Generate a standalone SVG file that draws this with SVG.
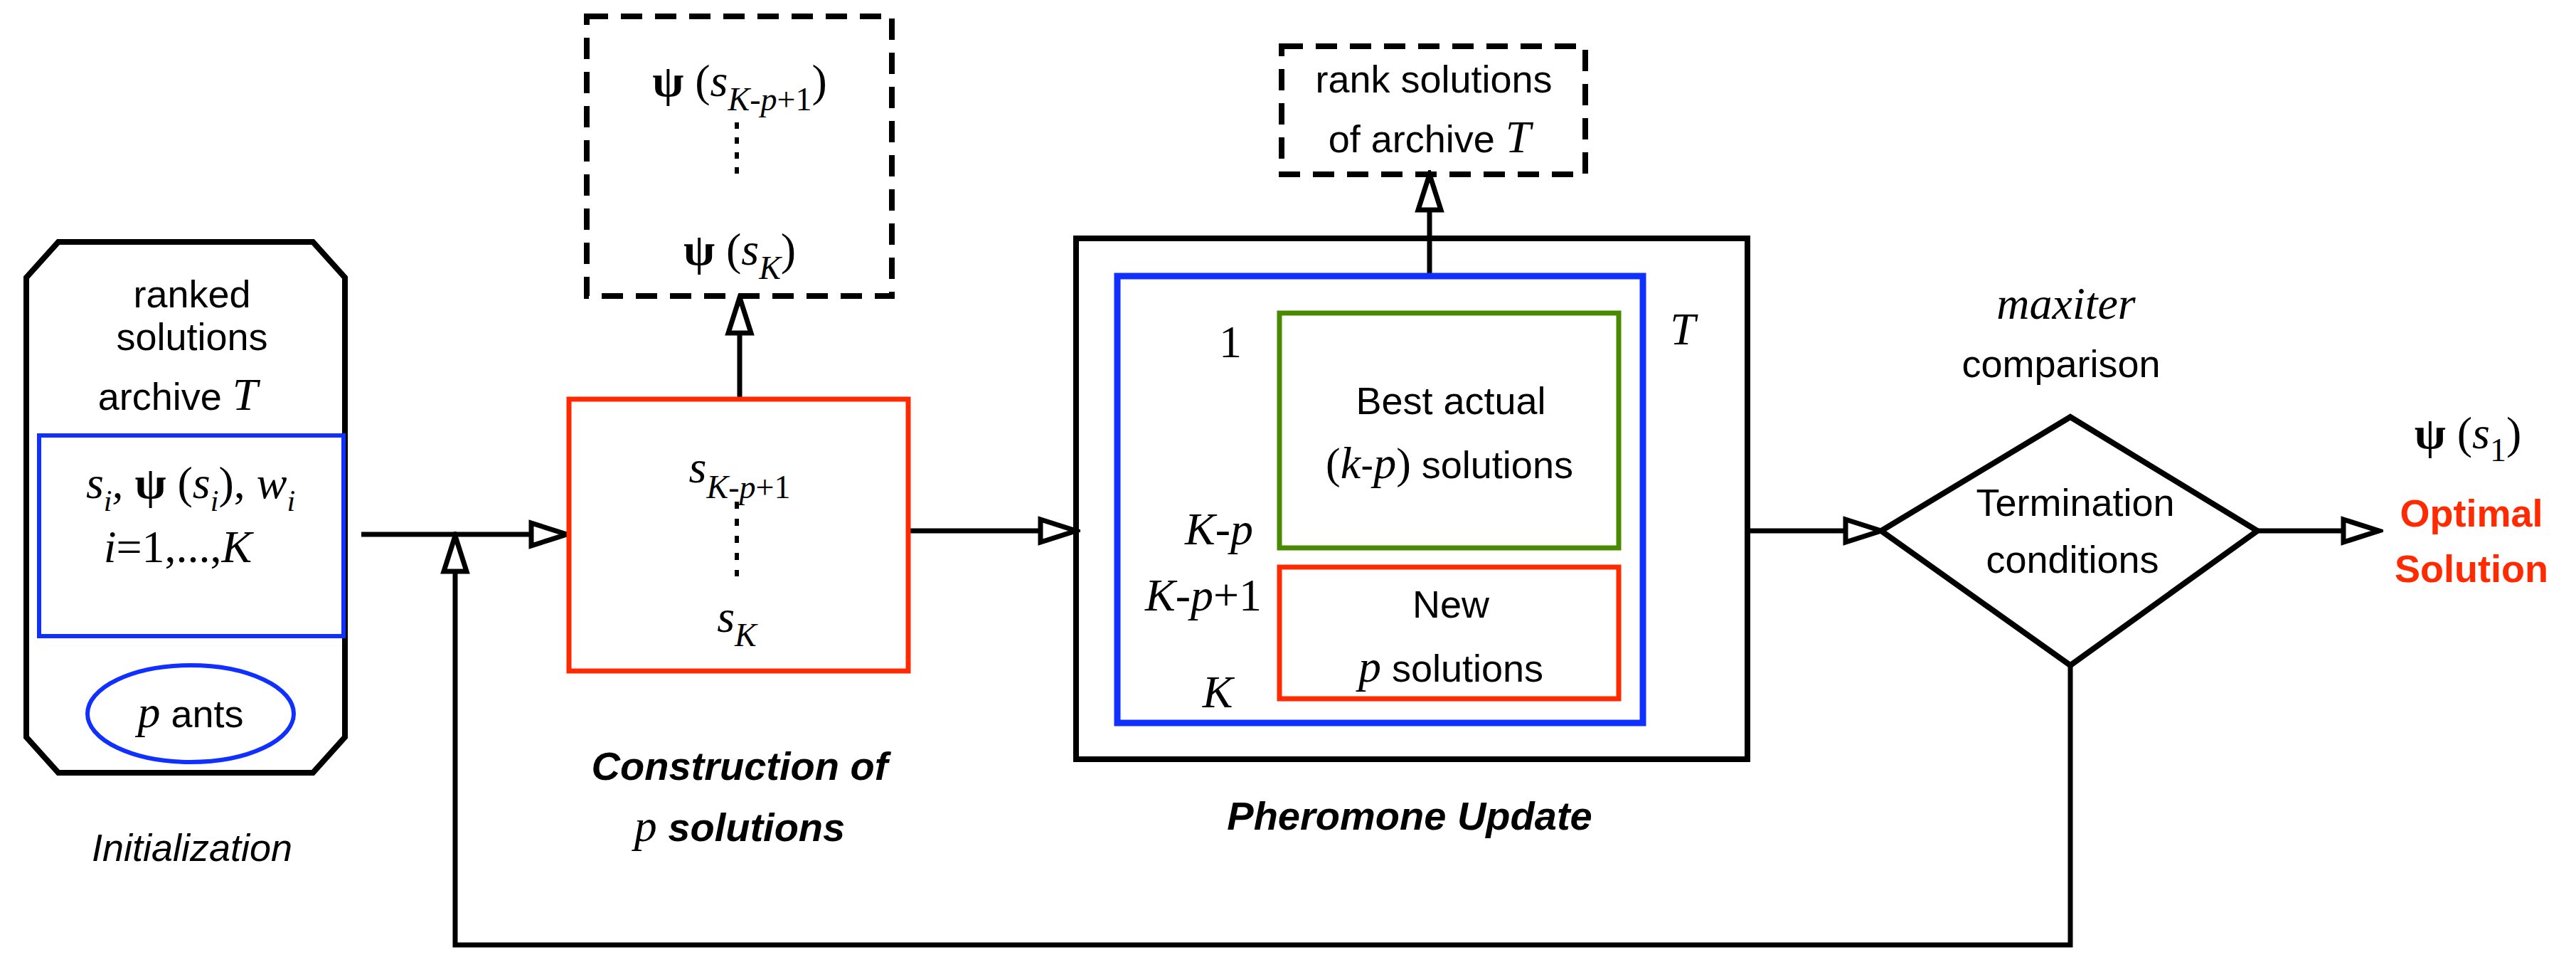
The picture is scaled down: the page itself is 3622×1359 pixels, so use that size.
<svg xmlns="http://www.w3.org/2000/svg" width="3622" height="1359" viewBox="0 0 3622 1359">
<style>
.s{font-family:"Liberation Sans",Arial,sans-serif;font-size:54px;fill:#000;text-anchor:middle}
.m{font-family:"Liberation Serif","Times New Roman",serif;font-style:italic;font-size:64px;fill:#000;text-anchor:middle}
.mu{font-family:"Liberation Serif","Times New Roman",serif;font-size:64px;fill:#000;text-anchor:middle}
.b{font-family:"Liberation Serif",serif;font-weight:bold;font-style:normal}
.lab{font-family:"Liberation Sans",Arial,sans-serif;font-size:56px;font-weight:bold;font-style:italic;fill:#000;text-anchor:middle}
.k{fill:none;stroke:#000;stroke-width:8}
.d{fill:none;stroke:#000;stroke-width:8;stroke-dasharray:30,18}
.c{fill:none;stroke:#000;stroke-width:7}
</style>
<defs>
<marker id="a" markerUnits="userSpaceOnUse" markerWidth="60" markerHeight="60" viewBox="0 0 60 60" refX="54" refY="30" orient="auto">
<path d="M4,14 L54,30 L4,46 Z" fill="#fff" stroke="#000" stroke-width="7"/>
</marker>
</defs>
<g id="connectors">
<path class="c" d="M508,751 H797" marker-end="url(#a)"/>
<path class="c" d="M2911,935 V1328 H640 V753" marker-end="url(#a)"/>
<path class="c" d="M1040,561 V418" marker-end="url(#a)"/>
<path class="c" d="M1277,746 H1513" marker-end="url(#a)"/>
<path class="c" d="M2010,388 V245" marker-end="url(#a)"/>
<path class="c" d="M2453,746 H2645" marker-end="url(#a)"/>
<path class="c" d="M3169,746 H3345" marker-end="url(#a)"/>
</g>
<g id="init">
<path class="k" d="M82,340 H440 L485,390 V1036 L440,1086 H82 L37,1036 V390 Z"/>
<text class="s" x="270" y="432">ranked</text>
<text class="s" x="270" y="492">solutions</text>
<text class="s" x="250" y="576">archive <tspan class="m" font-size="68">T</tspan></text>
<rect x="55" y="612" width="428" height="282" fill="none" stroke="#1030ff" stroke-width="6"/>
<text class="m" x="268" y="700">s<tspan font-size="42" dy="18">i</tspan><tspan dy="-18">, </tspan><tspan class="b">ψ</tspan><tspan style="font-style:normal"> (</tspan>s<tspan font-size="42" dy="18">i</tspan><tspan dy="-18" style="font-style:normal">), </tspan>w<tspan font-size="42" dy="18">i</tspan></text>
<text class="m" x="250" y="790">i<tspan style="font-style:normal">=1,...,</tspan>K</text>
<ellipse cx="268" cy="1003" rx="145" ry="68" fill="none" stroke="#1030ff" stroke-width="6"/>
<text class="s" x="268" y="1022"><tspan class="m">p</tspan> ants</text>
<text class="s" x="270" y="1210" font-style="italic" font-size="58">Initialization</text>
</g>
<g id="construction">
<rect x="800" y="561" width="477" height="382" fill="none" stroke="#ff2a00" stroke-width="7"/>
<text class="m" x="1040" y="678">s<tspan font-size="46" dy="22">K<tspan style="font-style:normal">-</tspan>p<tspan style="font-style:normal">+1</tspan></tspan></text>
<path d="M1036,705 V810" stroke="#000" stroke-width="6" stroke-dasharray="10,14"/>
<text class="m" x="1036" y="888">s<tspan font-size="46" dy="20">K</tspan></text>
<text class="lab" x="1040" y="1096">Construction of</text>
<text class="lab" x="1040" y="1182"><tspan class="m" font-weight="normal">p</tspan> solutions</text>
</g>
<g id="psi-box">
<rect x="825" y="23" width="429" height="393" class="d"/>
<text class="mu" x="1040" y="135"><tspan class="b">ψ</tspan> (<tspan font-style="italic">s</tspan><tspan font-size="46" dy="20" font-style="italic">K<tspan style="font-style:normal">-</tspan>p<tspan style="font-style:normal">+1</tspan></tspan><tspan dy="-20">)</tspan></text>
<path d="M1036,172 V255" stroke="#000" stroke-width="6" stroke-dasharray="9,12"/>
<text class="mu" x="1040" y="372"><tspan class="b">ψ</tspan> (<tspan font-style="italic">s</tspan><tspan font-size="46" dy="20" font-style="italic">K</tspan><tspan dy="-20">)</tspan></text>
</g>
<g id="pheromone">
<rect x="1513" y="335" width="944" height="732" class="k"/>
<rect x="1571" y="388" width="739" height="628" fill="none" stroke="#1030ff" stroke-width="9"/>
<rect x="1799" y="440" width="477" height="330" fill="none" stroke="#4a8a00" stroke-width="7"/>
<rect x="1799" y="797" width="477" height="185" fill="none" stroke="#ff2a00" stroke-width="7"/>
<text class="mu" x="1730" y="502">1</text>
<text class="m" x="1714" y="765">K<tspan style="font-style:normal">-</tspan>p</text>
<text class="m" x="1692" y="858">K<tspan style="font-style:normal">-</tspan>p<tspan style="font-style:normal">+1</tspan></text>
<text class="m" x="1712" y="994">K</text>
<text class="m" x="2366" y="484" font-size="68">T</text>
<text class="s" x="2040" y="582">Best actual</text>
<text class="s" x="2038" y="672"><tspan style="font-family:'Liberation Serif',serif;font-size:62px">(</tspan><tspan class="m">k</tspan>-<tspan class="m">p</tspan><tspan style="font-family:'Liberation Serif',serif;font-size:62px">)</tspan> solutions</text>
<text class="s" x="2040" y="868">New</text>
<text class="s" x="2040" y="958"><tspan class="m">p</tspan> solutions</text>
<text class="lab" x="1982" y="1166">Pheromone Update</text>
</g>
<g id="rank-box">
<rect x="1802" y="65" width="427" height="180" class="d"/>
<text class="s" x="2016" y="130">rank solutions</text>
<text class="s" x="2010" y="214">of archive <tspan class="m" font-size="68">T</tspan></text>
</g>
<g id="termination">
<path class="k" d="M2911,586 L3174,746 L2911,935 L2645,746 Z"/>
<text class="s" x="2918" y="725">Termination</text>
<text class="s" x="2914" y="805">conditions</text>
<text class="m" x="2905" y="448">maxiter</text>
<text class="s" x="2898" y="530">comparison</text>
</g>
<g id="optimal">
<text class="mu" x="3470" y="630"><tspan class="b">ψ</tspan> (<tspan font-style="italic">s</tspan><tspan font-size="46" dy="18">1</tspan><tspan dy="-18">)</tspan></text>
<text class="s" x="3475" y="740" font-weight="bold" style="fill:#ff2a00">Optimal</text>
<text class="s" x="3475" y="818" font-weight="bold" style="fill:#ff2a00">Solution</text>
</g>
</svg>
